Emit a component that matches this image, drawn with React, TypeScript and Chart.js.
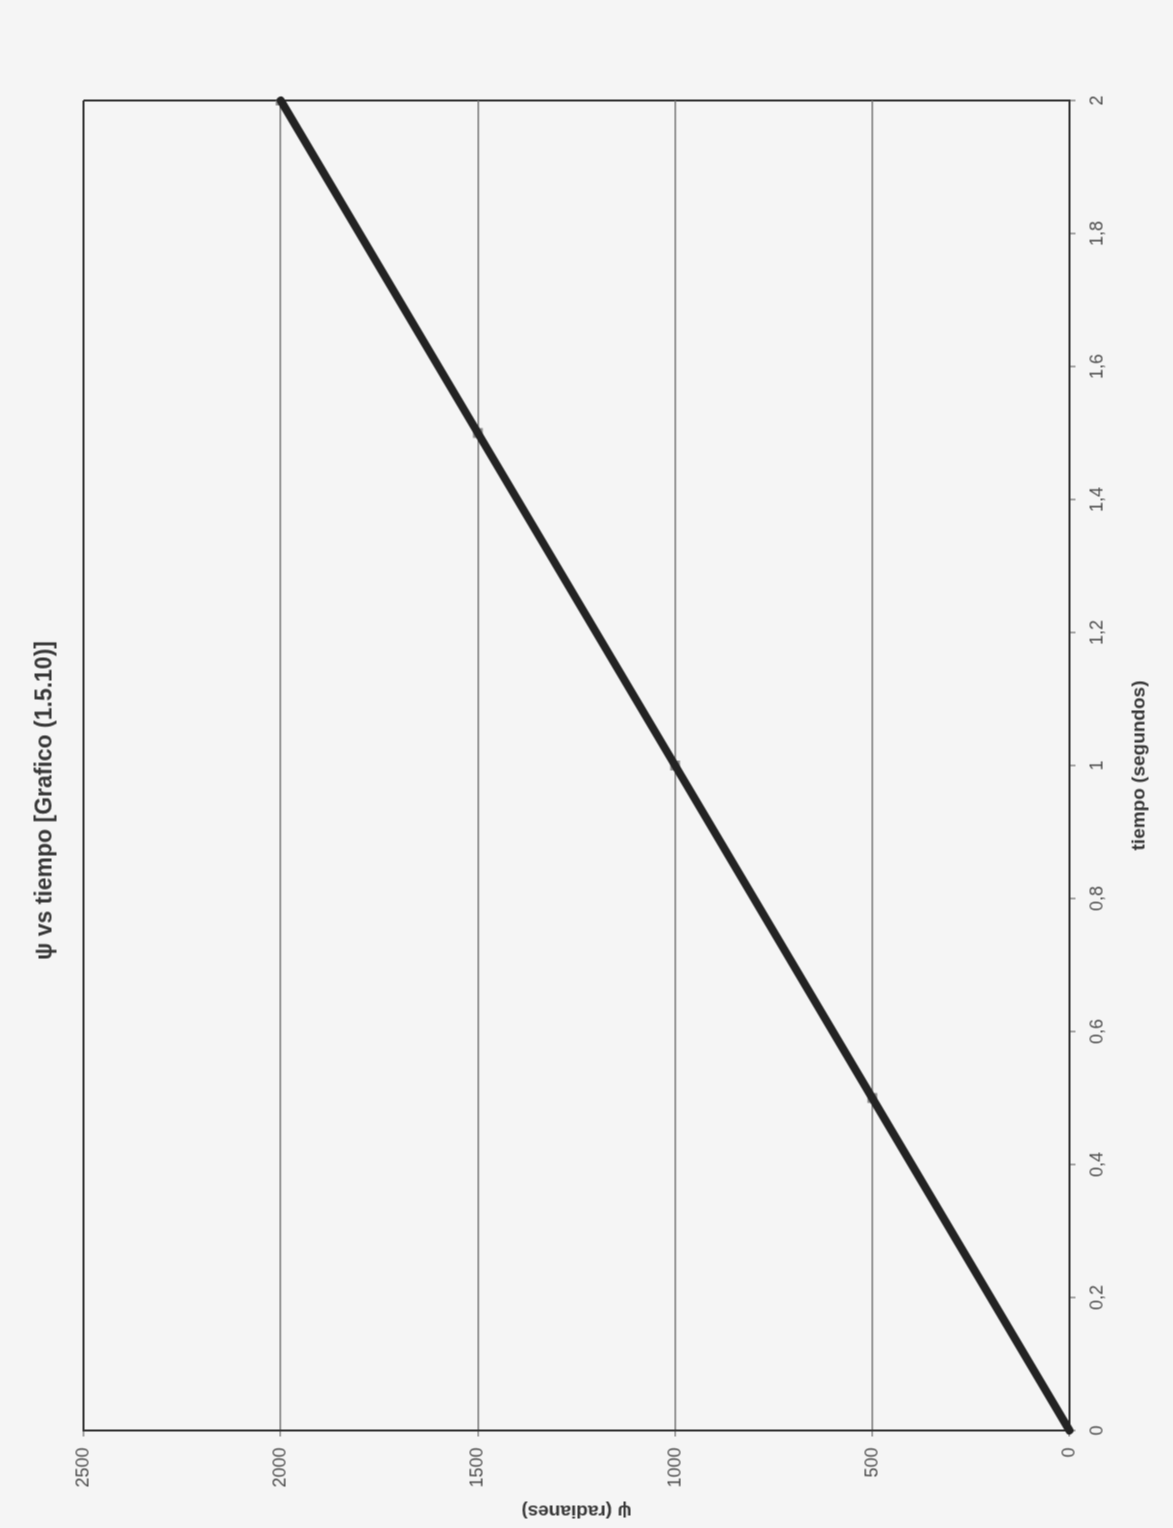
import React, { useEffect, useRef } from "react";
import { Chart, registerables } from "chart.js";

Chart.register(...registerables);

// ψ (radianes) sampled against tiempo (segundos)
const TIEMPO = [0, 0.5, 1, 1.5, 2];
const PSI = [0, 500, 1000, 1500, 2000];

// Axis ticks
const TIEMPO_TICKS = [0, 0.2, 0.4, 0.6, 0.8, 1, 1.2, 1.4, 1.6, 1.8, 2];
const PSI_TICKS = [0, 500, 1000, 1500, 2000, 2500];

const TITLE = "ψ vs tiempo [Grafico (1.5.10)]";
const X_TITLE = "tiempo (segundos)";
const Y_TITLE = "ψ (radianes)";

// The sheet is laid out landscape and turned a quarter turn on the page.
const PAGE_W = 1173;
const PAGE_H = 1528;

const FONT = "'Liberation Sans', Arial, sans-serif";
const FRAME = "#303030";
const GRID = "#767676";
const TICK_TEXT = "#4e4e4e";
const TITLE_TEXT = "#383838";

const fmtComma = (v: number) => String(Number(v.toFixed(1))).replace(".", ",");

export default function App() {
  const canvasRef = useRef<HTMLCanvasElement | null>(null);

  useEffect(() => {
    const canvas = canvasRef.current;
    if (!canvas) return;
    const points = TIEMPO.map((t, i) => ({ x: t, y: PSI[i] }));

    const chart = new Chart(canvas, {
      type: "scatter",
      data: {
        datasets: [
          {
            label: "psi",
            data: points,
            showLine: true,
            borderColor: "#232323",
            borderWidth: 8,
            borderCapStyle: "round",
            pointRadius: 0,
            clip: false,
            order: 1,
          },
          {
            label: "marcas",
            data: points,
            showLine: false,
            pointStyle: "rect",
            pointRadius: 7,
            pointBackgroundColor: "#8c8c8c",
            pointBorderColor: "#8c8c8c",
            pointBorderWidth: 0,
            order: 2,
          },
        ],
      },
      options: {
        animation: false,
        responsive: false,
        devicePixelRatio: 1,
        layout: { padding: { left: 28, right: 100, top: 0, bottom: 0 } },
        plugins: {
          legend: { display: false },
          tooltip: { enabled: false },
          title: {
            display: true,
            text: TITLE,
            color: TITLE_TEXT,
            font: { family: FONT, size: 23, weight: "bold" },
            padding: { top: 31.2, bottom: 24.2 },
          },
        },
        scales: {
          x: {
            type: "linear",
            min: 0,
            max: 2,
            afterBuildTicks: (scale: any) => {
              scale.ticks = TIEMPO_TICKS.map((v) => ({ value: v }));
            },
            afterFit: (scale: any) => {
              scale.height = 104;
            },
            ticks: {
              color: TICK_TEXT,
              font: { family: FONT, size: 18 },
              padding: 11,
              maxRotation: 0,
              autoSkip: false,
              callback: (v: any) => fmtComma(Number(v)),
            },
            grid: {
              display: true,
              drawOnChartArea: true,
              color: (ctx: any) =>
                ctx.tick && ctx.tick.value === 2 ? FRAME : "rgba(0,0,0,0)",
              lineWidth: 2,
              tickLength: 6,
              tickColor: "#555555",
              tickWidth: 1,
            },
            border: { display: true, color: FRAME, width: 2 },
            title: {
              display: true,
              text: X_TITLE,
              color: TITLE_TEXT,
              font: { family: FONT, size: 19, weight: "bold" },
              padding: { top: 4, bottom: 22.6 },
            },
          },
          y: {
            type: "linear",
            min: 0,
            max: 2500,
            afterBuildTicks: (scale: any) => {
              scale.ticks = PSI_TICKS.map((v) => ({ value: v }));
            },
            afterFit: (scale: any) => {
              scale.width = 70;
            },
            ticks: {
              color: TICK_TEXT,
              font: { family: FONT, size: 18 },
              padding: 11,
              autoSkip: false,
              callback: (v: any) => String(v),
            },
            grid: {
              display: true,
              color: (ctx: any) =>
                ctx.tick && ctx.tick.value === 2500 ? FRAME : GRID,
              lineWidth: (ctx: any) =>
                ctx.tick && ctx.tick.value === 2500 ? 2 : 1.5,
              tickLength: 6,
              tickColor: "#555555",
              tickWidth: 1,
            },
            border: { display: true, color: FRAME, width: 2 },
            title: {
              display: true,
              text: Y_TITLE,
              color: TITLE_TEXT,
              font: { family: FONT, size: 19, weight: "bold" },
              padding: { top: -21.4, bottom: 4 },
            },
          },
        },
      },
    } as any);

    return () => chart.destroy();
  }, []);

  return (
    <div
      style={{
        position: "fixed",
        left: 0,
        top: 0,
        width: PAGE_W,
        height: PAGE_H,
        background: "#f5f5f5",
        overflow: "hidden",
      }}
    >
      <div
        style={{
          position: "absolute",
          width: PAGE_H,
          height: PAGE_W,
          left: (PAGE_W - PAGE_H) / 2,
          top: (PAGE_H - PAGE_W) / 2,
          transform: "rotate(-90deg)",
        }}
      >
        <canvas
          ref={canvasRef}
          width={PAGE_H}
          height={PAGE_W}
          style={{ display: "block", width: PAGE_H, height: PAGE_W }}
        />
      </div>
    </div>
  );
}
